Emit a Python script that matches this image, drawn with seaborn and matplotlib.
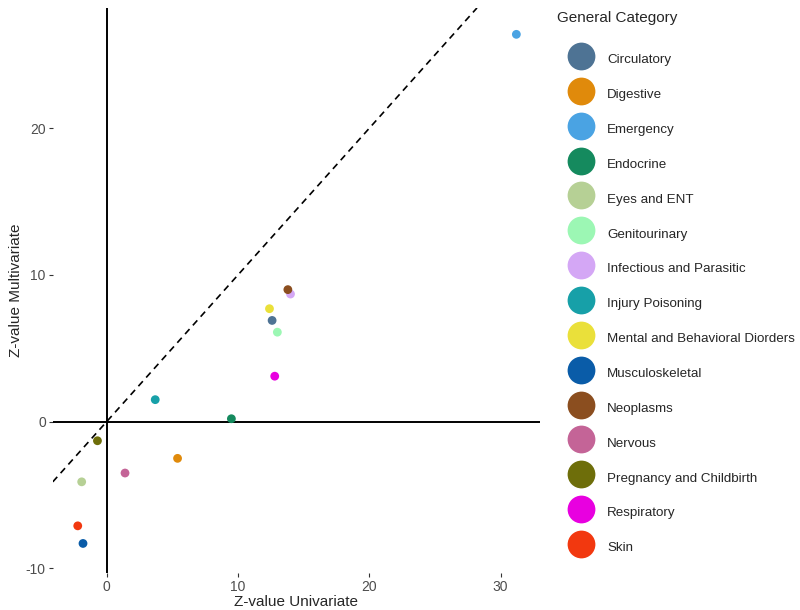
import matplotlib
matplotlib.use("Agg")
import pandas as pd
import seaborn as sns
from matplotlib import pyplot as plt

categories = ["Circulatory", "Digestive", "Emergency", "Endocrine", "Eyes and ENT",
              "Genitourinary", "Infectious and Parasitic", "Injury Poisoning",
              "Mental and Behavioral Diorders", "Musculoskeletal", "Neoplasms",
              "Nervous", "Pregnancy and Childbirth", "Respiratory", "Skin"]
z_univariate = [12.6, 5.4, 31.2, 9.5, -1.9, 13.0, 14.0, 3.7, 12.4, -1.8, 13.8, 1.4, -0.7, 12.8, -2.2]
z_multivariate = [6.9, -2.5, 26.4, 0.2, -4.1, 6.1, 8.7, 1.5, 7.7, -8.3, 9.0, -3.5, -1.3, 3.1, -7.1]
colors = ["#4E7394", "#E08A0B", "#4AA3E3", "#158A5E", "#B6D095",
          "#9CF7B4", "#D4A7F5", "#17A0A8", "#EAE03A", "#0A5CA8",
          "#8B4E1F", "#C46497", "#6E6E0A", "#E800E0", "#F2380F"]

df = pd.DataFrame({"General Category": categories,
                   "Z-value Univariate": z_univariate,
                   "Z-value Multivariate": z_multivariate})
palette = dict(zip(categories, colors))

sns.set_style("white")
plt.rcParams['font.family'] = ['Liberation Sans', 'DejaVu Sans']
plt.rcParams['axes.unicode_minus'] = False

fig = plt.figure(figsize=(8, 6.1), dpi=100)
ax = fig.add_axes([0.066, 0.061, 0.609, 0.926])

# reference lines
ax.axhline(0, color="black", lw=1.4, zorder=1)
ax.axvline(0, color="black", lw=1.4, zorder=1)
ax.axline((0, 0), slope=1, color="black", lw=1.2, ls=(0, (4, 3)), zorder=1)

sns.scatterplot(data=df, x="Z-value Univariate", y="Z-value Multivariate",
                hue="General Category", hue_order=categories, palette=palette,
                s=40, edgecolor="none", ax=ax, legend=True, zorder=3)

ax.set_xlim(-4.1, 33.0)
ax.set_ylim(-10.3, 28.2)
ax.set_xticks([0, 10, 20, 30])
ax.set_yticks([-10, 0, 10, 20])
for s in ax.spines.values():
    s.set_visible(False)
ax.tick_params(axis="both", length=3, width=0.8, color="#333333",
               labelcolor="#4D4D4D", labelsize=10, direction="out", bottom=True, left=True, pad=2)
ax.set_xlabel("Z-value Univariate", fontsize=11, labelpad=1)
ax.set_ylabel("Z-value Multivariate", fontsize=11, labelpad=2)

handles, labels = ax.get_legend_handles_labels()
ax.get_legend().remove()
for h in handles:
    h.set_markersize(20)
fig.text(0.696, 1 - 18 / 610, "General Category", fontsize=11, va="center", ha="left")
fig.legend(handles, labels, loc="upper left",
           bbox_to_anchor=(0.7096, 0.9202), frameon=False, fontsize=9.6,
           handleheight=2.0, labelspacing=1.07, borderpad=0, borderaxespad=0,
           handlelength=2.0, handletextpad=0.95)

fig.savefig("out.png", dpi=100)
